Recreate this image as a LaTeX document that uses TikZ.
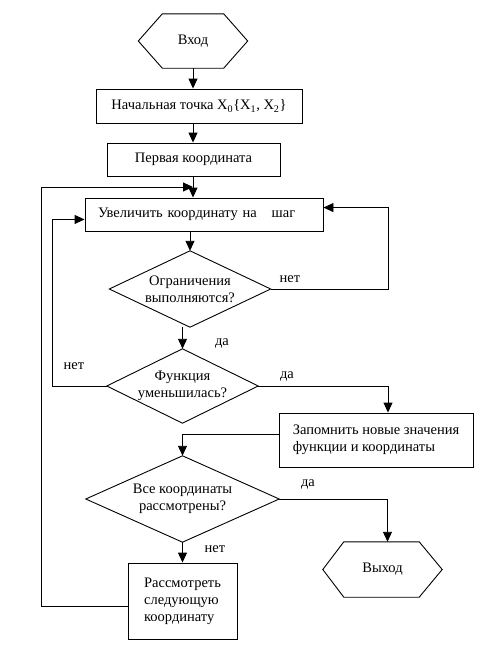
\documentclass[tikz,border=0pt]{standalone}
\usepackage{fontspec}
\setmainfont{Liberation Serif}
\usetikzlibrary{arrows.meta,calc}
\begin{document}
\begin{tikzpicture}[x=1pt,y=-1pt,
  every node/.style={font=\fontsize{14.5}{17}\selectfont},
  box/.style={draw, line width=0.9pt, inner sep=0pt},
  shp/.style={inner sep=0pt},
  outline/.style={line width=0.9pt},
  arr/.style={line width=0.9pt, -{Triangle[length=10pt,width=9pt]}},
  lbl/.style={inner sep=0pt}]
\useasboundingbox (0,0) rectangle (497,659);

% terminal: entry
\node[shp, minimum width=109pt, minimum height=54pt] (in) at (193,41) {Вход};
\draw[outline] (in.west) -- ($(in.north west)+(24,0)$) -- ($(in.north east)+(-24,0)$) -- (in.east)
  -- ($(in.south east)+(-24,0)$) -- ($(in.south west)+(24,0)$) -- cycle;

\node[box, minimum width=206pt, minimum height=34pt] (start) at (199,106)
  {Начальная точка X\textsubscript{0}\{X\textsubscript{1}, X\textsubscript{2}\}};
\node[box, minimum width=173pt, minimum height=33pt] (first) at (193.5,159.5) {Первая координата};
\node[box, minimum width=238pt, minimum height=33pt, text width=212pt, inner xsep=13pt, align=left] (inc) at (204,214.5)
  {Увеличить координату на \hspace{10pt}шаг};

\node[shp, minimum width=161pt, minimum height=76pt, align=center] (d1) at (190,289) {Ограничения\\выполняются?};
\draw[outline] (d1.west) -- (d1.north) -- (d1.east) -- (d1.south) -- cycle;

\node[shp, minimum width=151pt, minimum height=74pt, align=center] (d2) at (182.5,386) {Функция\\уменьшилась?};
\draw[outline] (d2.west) -- (d2.north) -- (d2.east) -- (d2.south) -- cycle;

\node[box, minimum width=194pt, minimum height=54pt, align=left] (mem) at (376,440)
  {Запомнить новые значения\\функции и координаты};

\node[shp, minimum width=193pt, minimum height=86pt, align=center] (d3) at (182.5,499) {Все координаты\\рассмотрены?};
\draw[outline] (d3.west) -- (d3.north) -- (d3.east) -- (d3.south) -- cycle;

\node[box, minimum width=109pt, minimum height=76pt, align=left] (rs) at (182.5,601)
  {Рассмотреть\\следующую\\координату};

% terminal: exit
\node[shp, minimum width=119pt, minimum height=55pt] (out) at (382.5,569.5) {Выход};
\draw[outline] (out.west) -- ($(out.north west)+(21,0)$) -- ($(out.north east)+(-23,0)$) -- (out.east)
  -- ($(out.south east)+(-23,0)$) -- ($(out.south west)+(21,0)$) -- cycle;

% labels
\node[lbl] (l1) at (290,279) {нет};
\node[lbl] (l2) at (222,343) {да};
\node[lbl] (l3) at (74,366) {нет};
\node[lbl] (l4) at (287,376) {да};
\node[lbl] (l5) at (308,484) {да};
\node[lbl] (l6) at (215,549) {нет};

% connectors
\draw[arr] (in.south) -- (in.south |- start.north);
\draw[arr] (in.south |- start.south) -- (in.south |- first.north);
\draw[arr] (in.south |- first.south) -- (in.south |- inc.north);
\coordinate (j) at ($(in.south |- first.south)!0.5!(in.south |- inc.north)$);
\draw[arr] (d1.north |- inc.south) -- (d1.north);
\draw[arr] (d2.north |- d1.south) -- (d2.north);
\draw[arr] (d1.east) -| ($(inc.north east)+(65,10)$) -- ($(inc.north east)+(0,10)$);
\draw[arr] (d2.west) -| ($(inc.south west)+(-32,-12)$) -- ($(inc.south west)+(0,-12)$);
\draw[arr] (d2.east) -| ($(mem.north)+(12,0)$);
\draw[arr] ($(mem.north west)+(0,22)$) -| (d3.north);
\draw[arr] (d3.east) -| ($(out.north)+(5,0)$);
\draw[arr] (d3.south) -- (rs.north);
\draw[arr] ($(rs.north west)+(0,44)$) -- ++(-86,0) |- (j);
\end{tikzpicture}
\end{document}
